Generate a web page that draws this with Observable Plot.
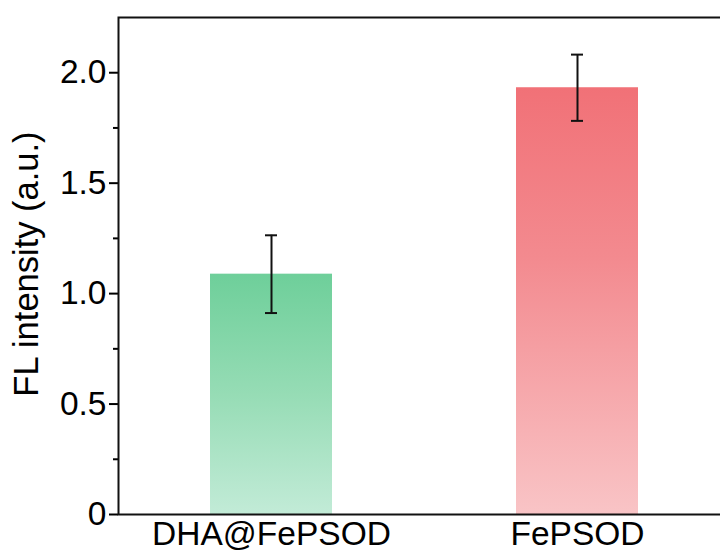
<!DOCTYPE html>
<html>
<head>
<meta charset="utf-8">
<script src="https://cdn.jsdelivr.net/npm/d3@7"></script>
<script src="https://cdn.jsdelivr.net/npm/@observablehq/plot@0.6"></script>
<style>
  html, body { margin: 0; padding: 0; background: #fff; overflow: hidden; }
  #chart svg { overflow: hidden; }
</style>
</head>
<body>
<div id="chart"></div>
<script>
// Data
const categories = ["DHA@FePSOD", "FePSOD"];
const means = [1.088, 1.932];
const errors = [0.176, 0.150];
const gradientIds = ["gradGreen", "gradRed"];
const yTicksMajor = [0, 0.5, 1.0, 1.5, 2.0];
const yTicksMinor = [0.25, 0.75, 1.25, 1.75];
const yLabel = "FL intensity (a.u.)";

const data = categories.map((name, i) => ({name, v: means[i], e: errors[i], g: gradientIds[i]}));

const font = "'Liberation Sans', Arial, sans-serif";

const plot = Plot.plot({
  width: 720,
  height: 552,
  marginLeft: 118,
  marginRight: -10,
  marginTop: 17,
  marginBottom: 38,
  style: {fontFamily: font, fontSize: "33.5px", color: "#000", background: "#fff"},
  x: {domain: categories, paddingInner: 0.6, paddingOuter: 0.3, label: null},
  y: {domain: [0, 2.25], label: null},
  marks: [
    Plot.barY(data.filter(d => d.g === "gradGreen"), {x: "name", y: "v", fill: "url(#gradGreen)"}),
    Plot.barY(data.filter(d => d.g === "gradRed"), {x: "name", y: "v", fill: "url(#gradRed)"}),
    Plot.ruleX(data, {x: "name", y1: d => d.v - d.e, y2: d => d.v + d.e, stroke: "#111", strokeWidth: 2}),
    Plot.tickY(data, {x: "name", y: d => d.v + d.e, insetLeft: 55, insetRight: 55, stroke: "#111", strokeWidth: 2}),
    Plot.tickY(data, {x: "name", y: d => d.v - d.e, insetLeft: 55, insetRight: 55, stroke: "#111", strokeWidth: 2}),
    Plot.axisY(yTicksMajor, {tickSize: 9, tickPadding: 3, tickFormat: d => d === 0 ? "0" : d.toFixed(1), label: null, strokeWidth: 2}),
    Plot.axisY(yTicksMinor, {tickSize: 5, tickFormat: () => "", label: null, strokeWidth: 2}),
    Plot.axisX({tickSize: 0, tickPadding: 7, label: null}),
    Plot.frame({stroke: "#111", strokeWidth: 2}),
    Plot.text([yLabel], {frameAnchor: "left", text: d => d, rotate: -90, dx: -81, dy: -2, lineAnchor: "bottom", fontSize: 34.5, textAnchor: "middle", fill: "#000"})
  ]
});

// gradients
const svgNS = "http://www.w3.org/2000/svg";
const defs = document.createElementNS(svgNS, "defs");
const grads = {
  gradGreen: [[0, "#6ecf9a"], [0.5, "#96dcb5"], [1, "#c2ebd7"]],
  gradRed: [[0, "#f17177"], [0.4, "#f38a8f"], [1, "#f9c4c6"]]
};
for (const [id, stops] of Object.entries(grads)) {
  const lg = document.createElementNS(svgNS, "linearGradient");
  lg.setAttribute("id", id);
  lg.setAttribute("x1", "0"); lg.setAttribute("y1", "0");
  lg.setAttribute("x2", "0"); lg.setAttribute("y2", "1");
  for (const [o, c] of stops) {
    const s = document.createElementNS(svgNS, "stop");
    s.setAttribute("offset", o);
    s.setAttribute("stop-color", c);
    lg.appendChild(s);
  }
  defs.appendChild(lg);
}
plot.insertBefore(defs, plot.firstChild);
document.getElementById("chart").appendChild(plot);
</script>
</body>
</html>
